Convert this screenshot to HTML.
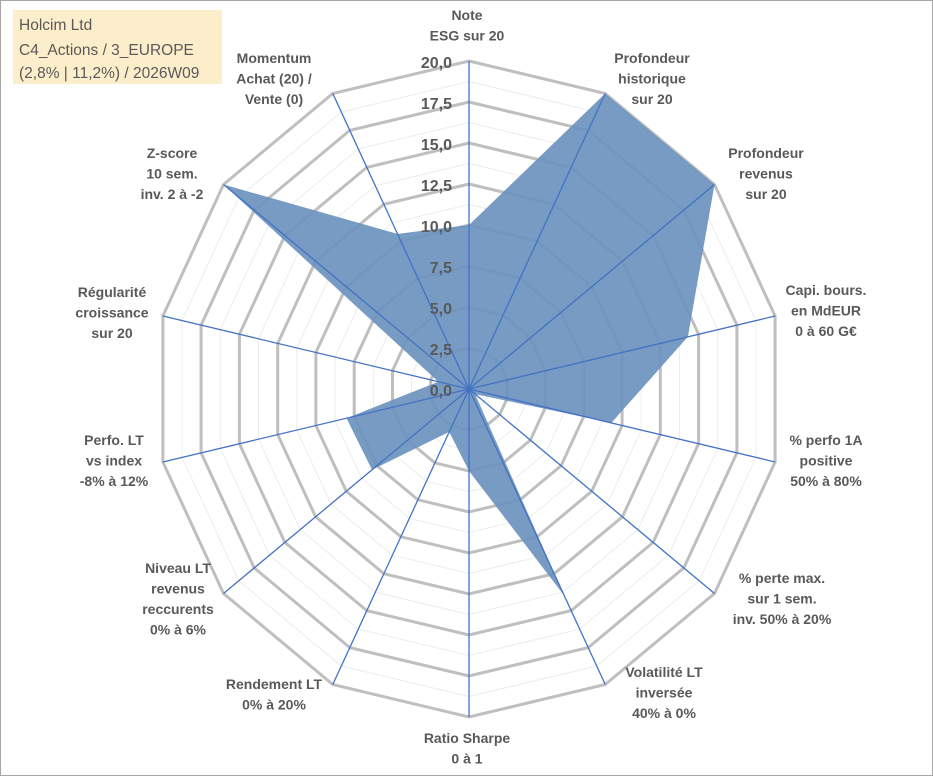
<!DOCTYPE html>
<html><head><meta charset="utf-8"><style>
html,body{margin:0;padding:0;background:#fff;}
svg{display:block;font-family:"Liberation Sans",sans-serif;}
</style></head><body>
<svg width="933" height="776" viewBox="0 0 933 776">
<rect x="0.5" y="0.5" width="932" height="775" fill="#fff" stroke="#a6a6a6"/>
<g id="grid"></g>
<g id="axes"></g>
<g id="series"></g>
<g id="ticks"></g>
<g id="labels" font-size="14" font-weight="bold" fill="#595959" text-anchor="middle"></g>
<rect x="13" y="10" width="209" height="74" fill="#fdeecb"/>
<g font-size="15.5" fill="#595959">
<text x="19" y="30">Holcim Ltd</text>
<text x="19" y="55">C4_Actions / 3_EUROPE</text>
<text x="19" y="78">(2,8% | 11,2%) / 2026W09</text>
</g>
</svg>
<script>
const categories=[["Note","ESG sur 20"],["Profondeur","historique","sur 20"],["Profondeur","revenus","sur 20"],["Capi. bours.","en MdEUR","0 à 60 G€"],["% perfo 1A","positive","50% à 80%"],["% perte max.","sur 1 sem.","inv. 50% à 20%"],["Volatilité LT","inversée","40% à 0%"],["Ratio Sharpe","0 à 1"],["Rendement LT","0% à 20%"],["Niveau LT","revenus","reccurents","0% à 6%"],["Perfo. LT","vs index","-8% à 12%"],["Régularité","croissance","sur 20"],["Z-score","10 sem.","inv. 2 à -2"],["Momentum","Achat (20) /","Vente (0)"]];
const values=[10,20,20,14.3,9.3,0.5,14,5,2.9,7.9,8,2,20,10.5];
const tickLabels=["0,0","2,5","5,0","7,5","10,0","12,5","15,0","17,5","20,0"];
const tickValues=[0,2.5,5,7.5,10,12.5,15,17.5,20];
const labelPos=[[467,15],[652,58],[766,153],[826,290],[826,440],[782,578],[664,672],[467,738],[274,684],[178,568],[114,440],[112,292],[172,153],[274,58]];
const NS="http://www.w3.org/2000/svg";
const cx=469,cy=389,Rx=314,Ry=328,maxV=20,N=categories.length;
function ang(i){return 2*Math.PI*i/N;}
function px(i,v){return cx+Rx*(v/maxV)*Math.sin(ang(i));}
function py(i,v){return cy-Ry*(v/maxV)*Math.cos(ang(i));}
function mk(t,a,p){const e=document.createElementNS(NS,t);for(const k in a)e.setAttribute(k,a[k]);p.appendChild(e);return e;}
const grid=document.getElementById('grid');
for(let k=1;k<=16;k++){const v=k*1.25;const pts=[];for(let i=0;i<N;i++)pts.push(px(i,v).toFixed(1)+","+py(i,v).toFixed(1));
const major=k%2===0;
const e=mk('polygon',{points:pts.join(' '),fill:'none',stroke:major?'#bfbfbf':'#ececec','stroke-width':major?3:1},grid);

}
const ser=document.getElementById('series');
const sp=values.map((v,i)=>px(i,v).toFixed(1)+","+py(i,v).toFixed(1)).join(' ');
const poly=mk('polygon',{points:sp,fill:'#6b93be','fill-opacity':'0.92',stroke:'none'},ser);


for(let i=0;i<N;i++){const l=mk('line',{x1:cx,y1:cy,x2:px(i,maxV),y2:py(i,maxV),stroke:'#4472c4','stroke-width':1.3},ser);

}
const tk=document.getElementById('ticks');
tickValues.forEach((v,j)=>{const t=mk('text',{x:cx-17,y:py(0,v)+7,'text-anchor':'end','font-size':16,'font-weight':'bold',fill:'#595959'},tk);t.textContent=tickLabels[j];

});
const lb=document.getElementById('labels');
categories.forEach((c,i)=>{const t=mk('text',{x:labelPos[i][0],y:labelPos[i][1]+5},lb);


c.forEach((s,j)=>{const ts=mk('tspan',{x:labelPos[i][0],dy:j?20.5:0},t);ts.textContent=s;});});
</script>
</body></html>
